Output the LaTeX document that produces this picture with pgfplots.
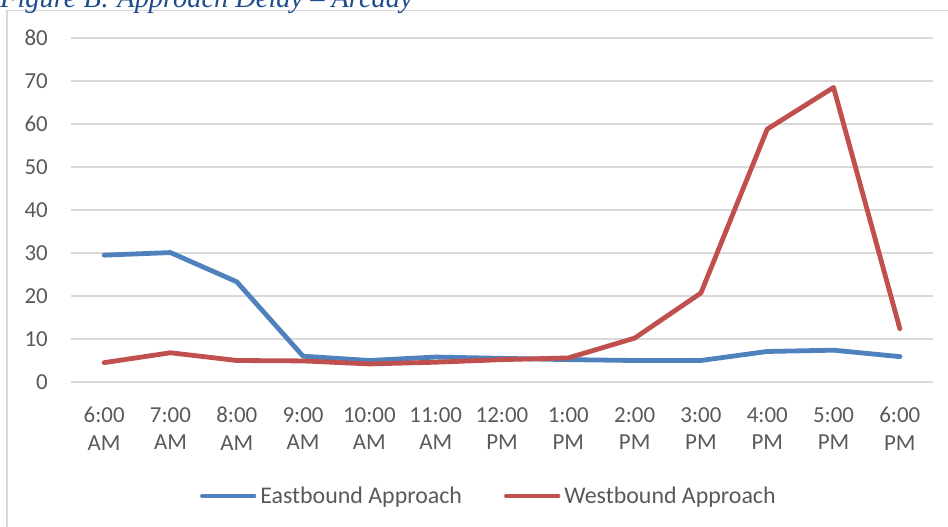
\documentclass[border=0pt]{standalone}
\usepackage{fontspec}
\setmainfont{Carlito}
\newfontfamily\titlefont{Liberation Serif}
\usepackage{pgfplots}
\pgfplotsset{compat=1.18}
\definecolor{eb}{HTML}{4F81BD}
\definecolor{wb}{HTML}{C0504D}
\definecolor{gridgray}{HTML}{D9D9D9}
\definecolor{labelgray}{HTML}{595959}
\definecolor{titleblue}{HTML}{1F4D8C}
\begin{document}
\begin{tikzpicture}
\draw[gridgray, line width=1.5bp] (7bp,-20bp) -- (7bp,516.5bp) -- (970bp,516.5bp);
\node[anchor=base west, inner sep=0pt, text=titleblue, font=\titlefont\itshape\fontsize{28.5}{30}\selectfont] at (0bp,519bp) {Figure B: Approach Delay – Arcady};
\begin{axis}[
  at={(71bp,145bp)}, anchor=south west,
  scale only axis, width=862bp, height=344bp,
  xmin=-0.5, xmax=12.5, ymin=0, ymax=80,
  ytick={0,10,...,80},
  xtick={0,...,12},
  xticklabels={{6:00\\AM},{7:00\\AM},{8:00\\AM},{9:00\\AM},{10:00\\AM},{11:00\\AM},{12:00\\PM},{1:00\\PM},{2:00\\PM},{3:00\\PM},{4:00\\PM},{5:00\\PM},{6:00\\PM}},
  /pgf/number format/assume math mode=true,
  axis line style={draw=none},
  major tick length=0pt,
  ymajorgrids,
  grid style={gridgray, line width=1.5bp},
  tick label style={text=labelgray, font=\fontsize{23}{28}\selectfont},
  xticklabel style={align=center, inner sep=0pt, anchor=north, yshift=-25bp},
  yticklabel style={inner sep=0pt, anchor=east, xshift=-23bp},
  legend columns=2,
  legend style={draw=none, fill=none, inner sep=0pt, outer sep=0pt,
    at={(axis description cs:0.1497,-0.3314)}, anchor=west,
    nodes={inner sep=0pt, text=labelgray, font=\fontsize{24}{28}\selectfont},
    /tikz/every odd column/.append style={column sep=4bp},
    /tikz/every even column/.append style={column sep=42bp}},
  legend image code/.code={\draw[#1, line cap=round] (2.25bp,0bp) -- (53.75bp,0bp);},
]
\addplot[eb, line width=4.8bp, line join=round, line cap=round] coordinates {
(0,29.5) (1,30.1) (2,23.3) (3,6.0) (4,5.0) (5,5.8) (6,5.5) (7,5.2) (8,5.0) (9,5.0) (10,7.1) (11,7.4) (12,5.9)};
\addlegendentry{Eastbound Approach}
\addplot[wb, line width=4.8bp, line join=round, line cap=round] coordinates {
(0,4.5) (1,6.8) (2,5.0) (3,4.9) (4,4.2) (5,4.6) (6,5.2) (7,5.6) (8,10.2) (9,20.7) (10,58.8) (11,68.5) (12,12.4)};
\addlegendentry{Westbound Approach}
\end{axis}
\pgfresetboundingbox
\useasboundingbox (0bp,0bp) rectangle (948bp,527bp);
\end{tikzpicture}
\end{document}
